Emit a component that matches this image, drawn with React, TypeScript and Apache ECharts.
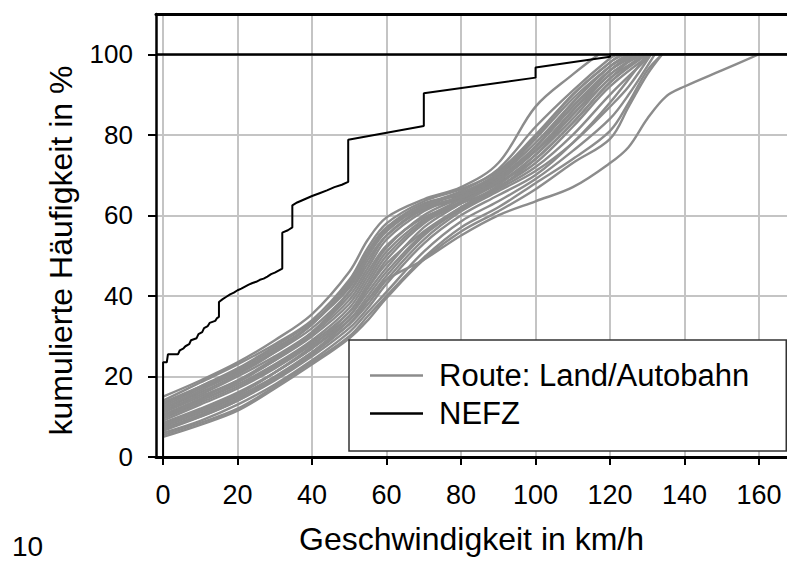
import { useEffect, useRef } from "react";
import * as echarts from "echarts";

const FONT = "'Liberation Sans', Arial, sans-serif";

// axis ticks
const speedTicks = [0, 20, 40, 60, 80, 100, 120, 140, 160];
const shareTicks = [0, 20, 40, 60, 80, 100];

const routeName = "Route: Land/Autobahn";
const cycleName = "NEFZ";

// cumulative speed distributions of the individual test drives [km/h, %]
const route01 = [[0, 15], [10, 19], [20, 23.5], [30, 29], [40, 35.5], [50, 46], [55, 54], [60, 59.5], [70, 64], [80, 67], [90, 73], [100, 87], [110, 95], [117, 100]];
const route02 = [[0, 14], [10, 18.5], [20, 23], [30, 28], [40, 34], [50, 44], [55, 52], [60, 58], [70, 63.5], [80, 66.5], [90, 71], [100, 80], [110, 90], [120, 98], [124, 100]];
const route03 = [[0, 13], [10, 17.5], [20, 22], [30, 27.5], [40, 33.5], [50, 42], [55, 50], [60, 56], [70, 62.5], [80, 66], [90, 71.5], [100, 82], [110, 91], [120, 99], [122, 100]];
const route04 = [[0, 12.5], [10, 17], [20, 21], [30, 26], [40, 32], [50, 41], [55, 48], [60, 55], [70, 62], [80, 65.5], [90, 70], [100, 78], [110, 88], [120, 97], [126, 100]];
const route05 = [[0, 12], [10, 16], [20, 20.5], [30, 26], [40, 33], [50, 43], [55, 51], [60, 57], [70, 63], [80, 65], [90, 69], [100, 76], [110, 86], [120, 95], [128, 100]];
const route06 = [[0, 11.5], [10, 15.5], [20, 20], [30, 25], [40, 31], [50, 40], [55, 47], [60, 54], [70, 61], [80, 65], [90, 70], [100, 79], [110, 89], [120, 97], [125, 100]];
const route07 = [[0, 11], [10, 15], [20, 19], [30, 24], [40, 30], [50, 38], [55, 45], [60, 52], [70, 60], [80, 64.5], [90, 69.5], [100, 77], [110, 87], [120, 96], [127, 100]];
const route08 = [[0, 10.5], [10, 14.5], [20, 19], [30, 24.5], [40, 31], [50, 41], [55, 49], [60, 55], [70, 61.5], [80, 64], [90, 68], [100, 75], [110, 84], [120, 94], [130, 100]];
const route09 = [[0, 10], [10, 14], [20, 18], [30, 23], [40, 29], [50, 37], [55, 44], [60, 51], [70, 59], [80, 64], [90, 69], [100, 76], [110, 85], [120, 95], [129, 100]];
const route10 = [[0, 9.5], [10, 13.5], [20, 17.5], [30, 22.5], [40, 28.5], [50, 36], [55, 43], [60, 50], [70, 58.5], [80, 63.5], [90, 68.5], [100, 76], [110, 86], [120, 96], [126, 100]];
const route11 = [[0, 9], [10, 13], [20, 17], [30, 22], [40, 28], [50, 35], [55, 42], [60, 49], [70, 58], [80, 63], [90, 68], [100, 74], [110, 83], [120, 93], [130, 100]];
const route12 = [[0, 8.5], [10, 12], [20, 16], [30, 21], [40, 27], [50, 35], [55, 41], [60, 47], [70, 57], [80, 63], [90, 69], [100, 77], [110, 88], [120, 97], [125, 100]];
const route13 = [[0, 8], [10, 11.5], [20, 15.5], [30, 21], [40, 27.5], [50, 36], [55, 42], [60, 48], [70, 56], [80, 62], [90, 67], [100, 73], [110, 82], [120, 92], [131, 100]];
const route14 = [[0, 7.5], [10, 11], [20, 15], [30, 20], [40, 26], [50, 33], [55, 39], [60, 45], [70, 55], [80, 61.5], [90, 66.5], [100, 72], [110, 80], [120, 90], [130, 99], [131, 100]];
const route15 = [[0, 7], [10, 10.5], [20, 14.5], [30, 19.5], [40, 25.5], [50, 33], [55, 38], [60, 44], [70, 54], [80, 61], [90, 66], [100, 71], [110, 78], [120, 87], [125, 92], [131, 100]];
const route16 = [[0, 6.5], [10, 10], [20, 14], [30, 19], [40, 25], [50, 32], [55, 37], [60, 43], [70, 53], [80, 60], [90, 65], [100, 70], [110, 78], [120, 88], [130, 100]];
const route17 = [[0, 6], [10, 9], [20, 13], [30, 18], [40, 24], [50, 31], [55, 36], [60, 41], [70, 51], [80, 58.5], [90, 63.5], [100, 69], [110, 76], [120, 84], [125, 90], [132, 100]];
const route18 = [[0, 5.5], [10, 8.5], [20, 12], [30, 17.5], [40, 23.5], [50, 30], [55, 35], [60, 40], [70, 49.5], [80, 57], [90, 62], [100, 68], [110, 74], [120, 81], [125, 88], [130, 96], [134, 100]];
const route19 = [[0, 5], [10, 8], [20, 11.5], [30, 17], [40, 23], [50, 29.5], [55, 34], [60, 39.5], [70, 49], [80, 56], [90, 61], [100, 66.5], [110, 73], [120, 79], [125, 87], [130, 95], [134, 100]];
const route20 = [[0, 8], [10, 11.5], [20, 15.5], [30, 21], [40, 27], [50, 34], [55, 39], [60, 44], [70, 49], [80, 55], [90, 60], [100, 63.5], [110, 67], [120, 73], [125, 77], [130, 84], [135, 89.5], [140, 92], [150, 96], [160, 100]];
const route21 = [[0, 13.5], [10, 17.5], [20, 21.5], [30, 27], [40, 33], [50, 43.5], [55, 51], [60, 57], [70, 62], [80, 64.5], [90, 68.5], [100, 77], [110, 87], [120, 96], [128, 100]];
const route22 = [[0, 10], [10, 14], [20, 18.5], [30, 24], [40, 30.5], [50, 39], [55, 46], [60, 52.5], [70, 59.5], [80, 63], [90, 67], [100, 74], [110, 83], [120, 93], [129, 100]];
const route23 = [[0, 7], [10, 10], [20, 14], [30, 19.5], [40, 26], [50, 34], [55, 40], [60, 46], [70, 55.5], [80, 62], [90, 67.5], [100, 75], [110, 85], [120, 94], [127, 100]];
const route24 = [[0, 12], [10, 16.5], [20, 21], [30, 26.5], [40, 33], [50, 42.5], [55, 50], [60, 56.5], [70, 62.5], [80, 65.5], [90, 70.5], [100, 79.5], [110, 90], [120, 98], [123, 100]];

const routeCurves = [
  route01, route02, route03, route04, route05, route06, route07, route08, route09, route10,
  route11, route12, route13, route14, route15, route16, route17, route18, route19, route20,
  route21, route22, route23, route24,
];

// NEFZ driving cycle, cumulative share of time below a given speed
const nefz = [
  [0, 0], [0, 23.5], [1, 23.5], [1.3, 25.5], [4, 25.5], [4.5, 26.5], [5.5, 27], [6, 27.5], [7, 28],
  [7.5, 29], [9, 29.5], [9.5, 30.5], [10.5, 31], [11, 32], [12, 32.5], [12.5, 33.3], [14, 33.8],
  [14.5, 34.5], [15, 34.8], [15, 38.5], [16, 39.2], [17, 39.8], [18, 40.4], [19, 40.8], [20, 41.4],
  [21, 41.8], [22, 42.3], [23, 42.8], [24, 43.2], [25, 43.5], [26, 44], [27, 44.3], [28, 44.8],
  [29, 45.4], [30, 45.8], [31, 46.3], [32, 46.8], [32, 55.7], [33.5, 56.3], [34.7, 57], [34.7, 62.5],
  [36, 63.2], [38, 64], [40, 64.8], [42, 65.5], [44, 66.2], [46, 67], [48, 67.6], [49.7, 68.3],
  [49.7, 78.8], [70, 82.2], [70, 90.3], [100, 94.2], [100, 96.7], [120, 99.4], [120, 100], [168, 100],
];

const GRAY = "#8c8c8c";
const GRID_GRAY = "#c4c4c4";

export default function App() {
  const ref = useRef<HTMLDivElement>(null);

  useEffect(() => {
    const chart = echarts.init(ref.current!, null, { renderer: "svg" });

    const routeSeries = routeCurves.map((curve) => ({
      type: "line",
      name: routeName,
      data: curve,
      smooth: 0.35,
      symbol: "none",
      lineStyle: { color: GRAY, width: 2.4 },
      itemStyle: { color: GRAY },
      z: 2,
    }));

    chart.setOption({
      animation: false,
      textStyle: { fontFamily: FONT },
      grid: { left: 156, right: 0, top: 14, bottom: 105, containLabel: false },
      xAxis: [
        {
          type: "value",
          min: -1.9,
          max: 167.5,
          splitNumber: 8,
          name: "Geschwindigkeit in km/h",
          nameLocation: "middle",
          nameGap: 66,
          nameTextStyle: { fontSize: 32, color: "#000", fontFamily: FONT },
          axisLine: { show: true, onZero: false, lineStyle: { color: "#000", width: 3 } },
          axisTick: { show: true, customValues: speedTicks, length: 8, lineStyle: { color: "#000", width: 2 } },
          axisLabel: { customValues: speedTicks, fontSize: 27, color: "#000", margin: 24, fontFamily: FONT },
          splitLine: { show: true, lineStyle: { color: GRID_GRAY, width: 2 } },
        },
        {
          type: "value",
          position: "top",
          min: -1.9,
          max: 167.5,
          axisLine: { show: true, onZero: false, lineStyle: { color: "#000", width: 3 } },
          axisTick: { show: false },
          axisLabel: { show: false },
          splitLine: { show: false },
        },
      ],
      yAxis: {
        type: "value",
        min: 0,
        max: 110,
        name: "kumulierte Häufigkeit in %",
        nameLocation: "middle",
        nameGap: 79,
        nameRotate: 90,
        nameTextStyle: { fontSize: 32, color: "#000", fontFamily: FONT, padding: [0, 30, 0, 0] },
        axisLine: { show: true, onZero: false, lineStyle: { color: "#000", width: 2.5 } },
        axisTick: { show: true, customValues: shareTicks, length: 8, lineStyle: { color: "#000", width: 2 } },
        axisLabel: { customValues: shareTicks, fontSize: 26, color: "#000", margin: 23, fontFamily: FONT },
        splitLine: { show: true, lineStyle: { color: GRID_GRAY, width: 2 } },
      },
      legend: {
        orient: "vertical",
        left: 349,
        top: 340,
        padding: [20, 37, 22, 21],
        itemGap: 7,
        itemWidth: 53,
        itemHeight: 2.5,
        backgroundColor: "#fff",
        borderColor: "#333",
        borderWidth: 1.5,
        borderRadius: 0,
        textStyle: { fontSize: 31, color: "#000", fontFamily: FONT, lineHeight: 30, padding: [0, 0, 0, 11] },
        data: [
          { name: routeName, icon: "rect", itemStyle: { color: GRAY } },
          { name: cycleName, icon: "rect", itemStyle: { color: "#000" } },
        ],
        itemStyle: { borderWidth: 0 },
      },
      graphic: [
        {
          type: "text",
          x: 12,
          y: 546,
          style: { text: "10", fontSize: 28, fill: "#000", fontFamily: FONT, verticalAlign: "middle" },
        },
      ],
      series: [
        ...routeSeries,
        {
          type: "line",
          name: cycleName,
          data: nefz,
          symbol: "none",
          lineStyle: { color: "#000", width: 2 },
          itemStyle: { color: "#000" },
          z: 3,
          markLine: {
            silent: true,
            symbol: "none",
            label: { show: false },
            lineStyle: { color: "#000", width: 2.5, type: "solid" },
            data: [{ yAxis: 100 }],
          },
        },
      ],
    });

    return () => chart.dispose();
  }, []);

  return (
    <div
      ref={ref}
      style={{ position: "fixed", left: 0, top: 0, width: 787, height: 562, background: "#fff" }}
    />
  );
}
